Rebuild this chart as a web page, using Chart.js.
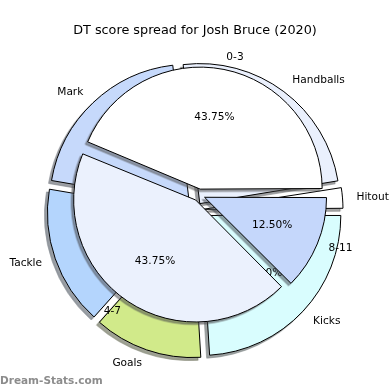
<!DOCTYPE html>
<html><head><meta charset="utf-8">
<script src="https://cdn.jsdelivr.net/npm/chart.js@4"></script>
<style>
html,body{margin:0;padding:0;background:#fff;}
#wrap{position:relative;width:390px;height:390px;overflow:hidden;font-family:'DejaVu Sans',sans-serif;}
canvas{position:absolute;left:0;top:0;}
#title{position:absolute;left:0;top:20px;width:390px;height:20px;line-height:20px;text-align:center;font-size:12.8px;color:#000;}
#wm{position:absolute;left:0;top:373px;height:14px;line-height:14px;font-size:10.5px;font-weight:bold;color:#8c8c8c;}
</style></head>
<body>
<div id="wrap">
  <canvas id="outerShadow" width="390" height="390" style="transform:translate(-2.8px,2.8px)"></canvas>
  <canvas id="outer" width="390" height="390"></canvas>
  <canvas id="innerShadow" width="390" height="390" style="transform:translate(-2.4px,2.4px)"></canvas>
  <canvas id="inner" width="390" height="390"></canvas>
  <div id="title">DT score spread for Josh Bruce (2020)</div>
  <div id="wm">Dream-Stats.com</div>
</div>
<script>
// ---- data (matplotlib order: counter-clockwise from 3 o'clock) ----
const outerLabels = ['Hitout', 'Handballs', 'Mark', 'Tackle', 'Goals', 'Kicks'];
const outerValues = [2.6, 24.3, 20.4, 16.1, 12.6, 24.0];
const outerColors = ['#ffffff', '#eaf0fd', '#c6d9fb', '#b4d5fd', '#d1ea8a', '#d9fdfe'];

const innerLabels = ['0-3', '4-7', '8-11'];
const innerValues = [7, 7, 2];
const innerColors = ['#ffffff', '#ebf1fd', '#c5d7fb'];

// ---- helpers ----
function shadowOf(hex) {
  const n = parseInt(hex.slice(1), 16);
  const r = (n >> 16) & 255, g = (n >> 8) & 255, b = n & 255;
  return 'rgba(' + Math.round(r * 0.3) + ',' + Math.round(g * 0.3) + ',' + Math.round(b * 0.3) + ',0.5)';
}
const rev = a => a.slice().reverse();   // Chart.js draws clockwise

// Chart.js enlarges offset arcs; keep every wedge at the pie radius
const explodeFix = {
  id: 'explodeFix',
  afterUpdate(chart) {
    const meta = chart.getDatasetMeta(0);
    const R = meta.controller.outerRadius;
    meta.data.forEach(arc => {
      const off = (arc.options.offset || 0) / 4;
      const fix = 1 - Math.sin(Math.min(Math.PI, arc.circumference));
      arc.outerRadius = R - off * fix;
    });
  }
};

const pieText = {
  id: 'pieText',
  afterDatasetsDraw(chart, args, opts) {
    if (!opts.show) return;
    const meta = chart.getDatasetMeta(0);
    const R = meta.controller.outerRadius;
    const ds = chart.data.datasets[0];
    const total = ds.data.reduce((a, b) => a + b, 0);
    const ctx = chart.ctx;
    ctx.save();
    ctx.font = '10.6px "DejaVu Sans"';
    ctx.fillStyle = '#000';
    ctx.textBaseline = 'middle';
    meta.data.forEach((arc, i) => {
      const mid = (arc.startAngle + arc.endAngle) / 2;
      const off = (arc.options.offset || 0) / 4;
      const c = Math.cos(mid), s = Math.sin(mid);
      const cx = arc.x + c * off, cy = arc.y + s * off;
      ctx.textAlign = 'center';
      ctx.fillText((ds.data[i] / total * 100).toFixed(2) + '%', cx + c * 0.6 * R, cy + s * 0.6 * R);
      ctx.textAlign = c > 0 ? 'left' : 'right';
      ctx.fillText(chart.data.labels[i], cx + c * 1.1 * R, cy + s * 1.1 * R);
    });
    ctx.restore();
  }
};

function makePie(id, labels, values, colors, opt) {
  const fill = opt.shadow ? colors.map(shadowOf) : colors;
  const edge = opt.shadow ? fill : colors.map(() => '#000000');
  return new Chart(document.getElementById(id), {
    type: 'pie',
    data: {
      labels: rev(labels),
      datasets: [{
        data: rev(values),
        backgroundColor: rev(fill),
        borderColor: rev(edge),
        borderWidth: 1,
        offset: opt.explode * 4
      }]
    },
    options: {
      responsive: false,
      animation: false,
      events: [],
      rotation: 90,
      radius: opt.radius,
      layout: { padding: opt.padding },
      plugins: {
        legend: { display: false },
        title: { display: false },
        tooltip: { enabled: false },
        pieText: { show: !opt.shadow }
      }
    },
    plugins: [explodeFix, pieText]
  });
}

const outerOpt = { radius: 140, explode: 8, padding: { top: 30, bottom: 0, left: 0, right: 0 } };
const innerOpt = { radius: 122, explode: 6, padding: { top: 0, bottom: 0, left: 8, right: 0 } };

makePie('outerShadow', outerLabels, outerValues, outerColors, Object.assign({ shadow: true }, outerOpt));
makePie('outer', outerLabels, outerValues, outerColors, Object.assign({ shadow: false }, outerOpt));
makePie('innerShadow', innerLabels, innerValues, innerColors, Object.assign({ shadow: true }, innerOpt));
makePie('inner', innerLabels, innerValues, innerColors, Object.assign({ shadow: false }, innerOpt));
</script>
</body></html>
